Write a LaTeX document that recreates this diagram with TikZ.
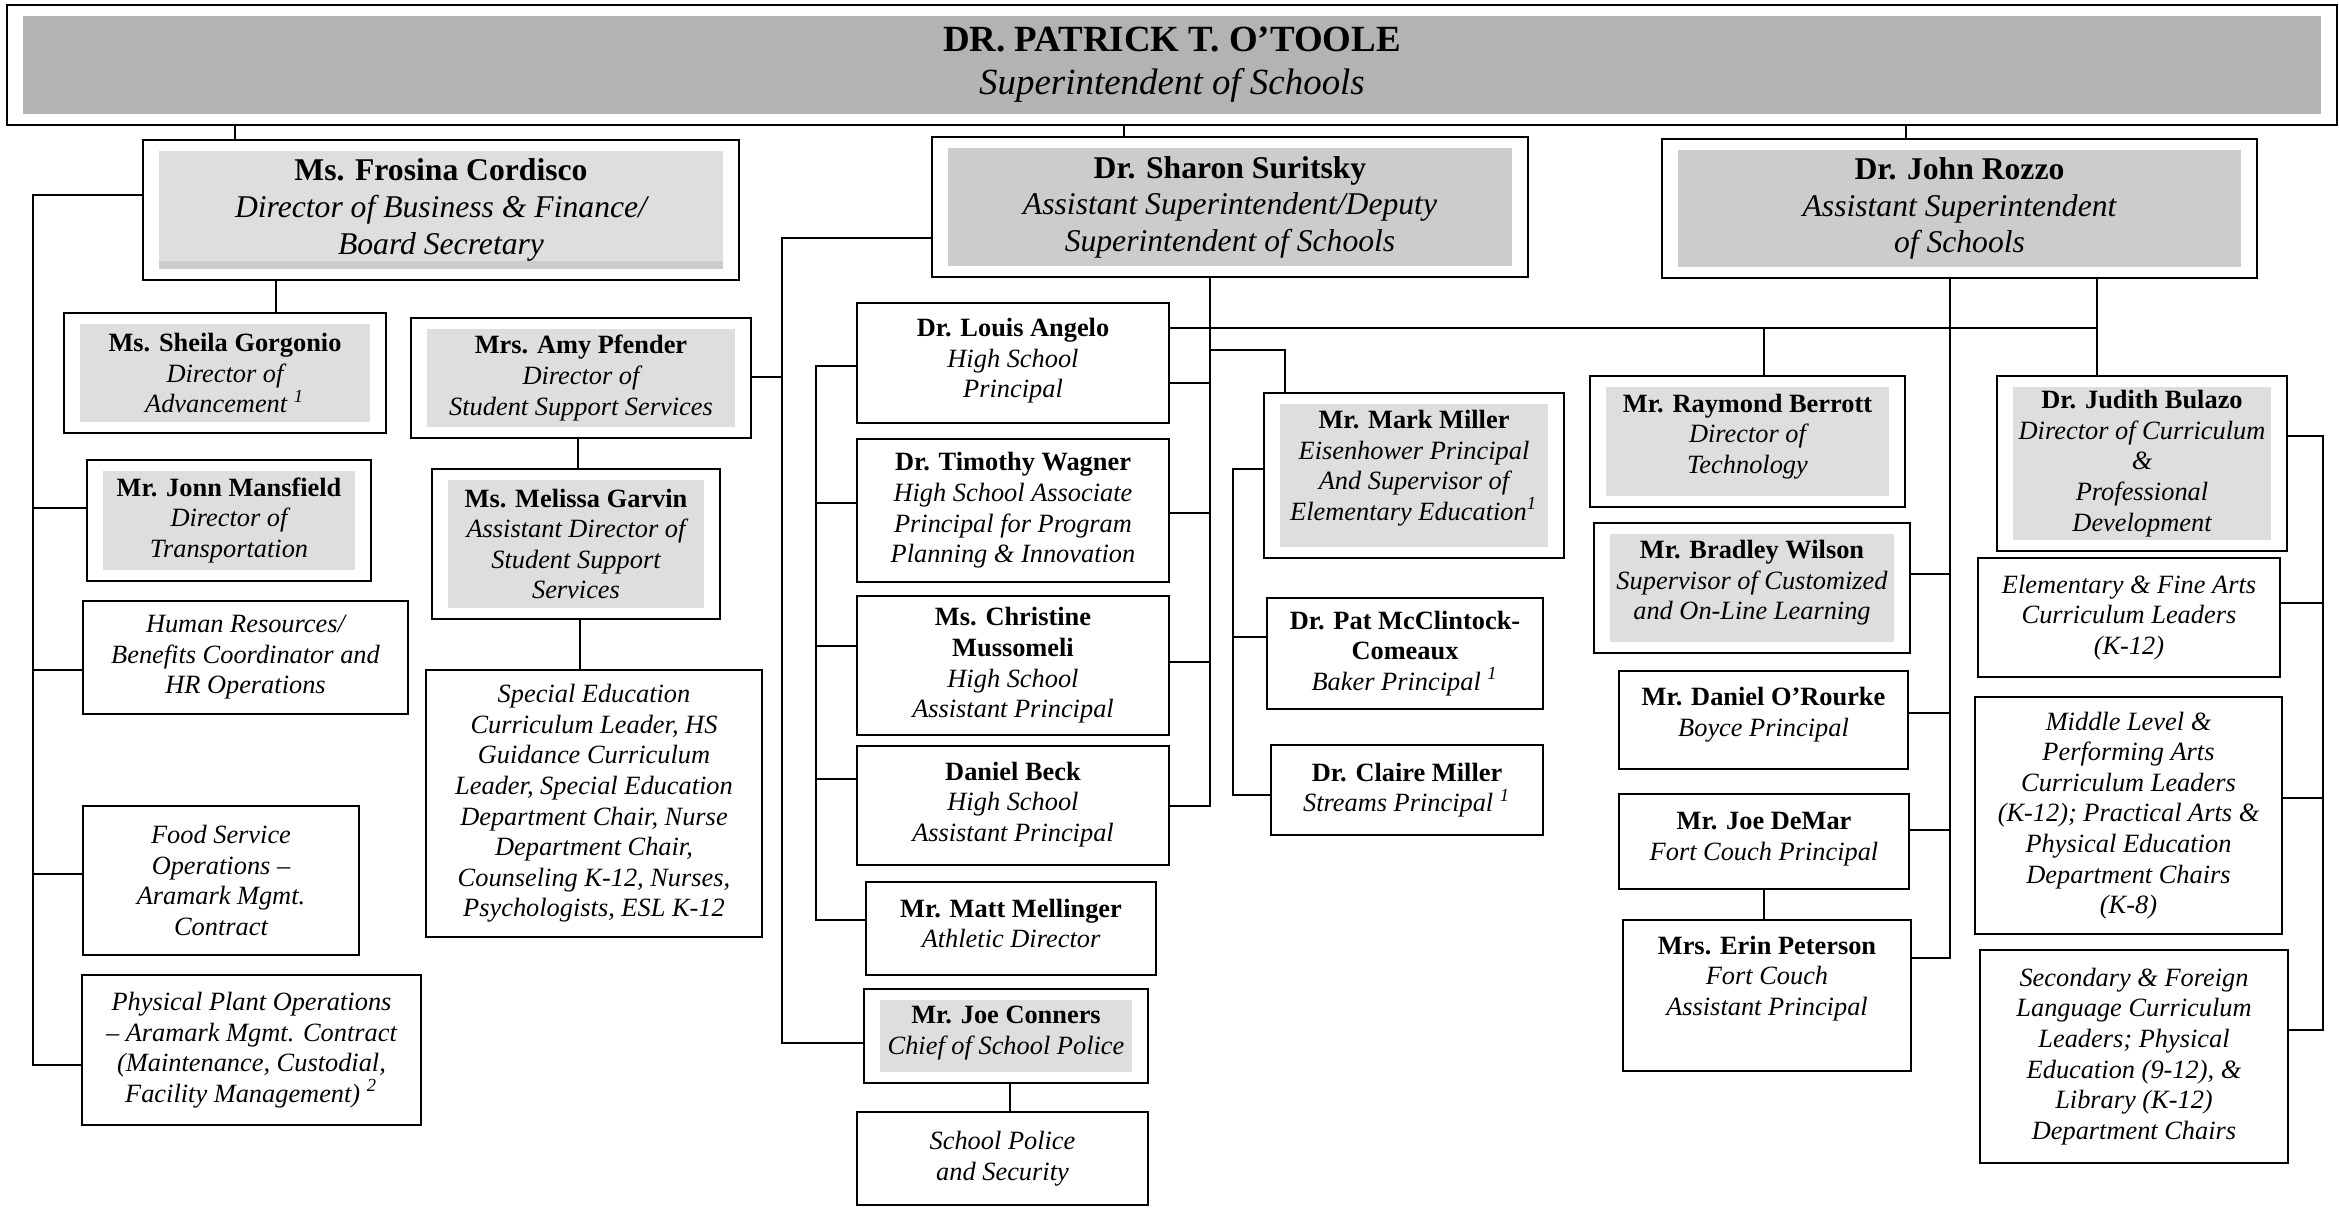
\documentclass[tikz,border=0pt]{standalone}
\usepackage{fontspec}
\setmainfont{Liberation Serif}
\usetikzlibrary{positioning}

\definecolor{fillA}{HTML}{B3B3B3}
\definecolor{fillB}{HTML}{CCCCCC}
\definecolor{fillC}{HTML}{DEDEDE}

\newcommand{\who}[1]{{\bfseries\upshape #1}}
\newcommand{\fn}[1]{\textsuperscript{#1}}
\newcommand{\txtup}[1]{\rule[-#1]{0pt}{#1}}

\begin{document}
\begin{tikzpicture}[
  x=0.01cm, y=-0.01cm,
  person/.style={draw, line width=0.6pt, inner sep=0pt, outer sep=0pt, align=center,
    font=\fontsize{7.5}{8.7}\selectfont\itshape},
  deputy/.style={person, font=\fontsize{9}{10.4}\selectfont\itshape},
  chief/.style={person, font=\fontsize{10.5}{12.2}\selectfont\itshape},
  shaded/.style={path picture={\fill[#1] ([xshift=0.16cm,yshift=-0.11cm]path picture bounding box.north west)
    rectangle ([xshift=-0.16cm,yshift=0.11cm]path picture bounding box.south east);}},
  shaded/.default=fillC,
  banded/.style={path picture={\fill[fillC] ([xshift=0.16cm,yshift=-0.11cm]path picture bounding box.north west)
    rectangle ([xshift=-0.16cm,yshift=0.11cm]path picture bounding box.south east);
    \fill[fillB] ([xshift=0.16cm,yshift=0.19cm]path picture bounding box.south west)
    rectangle ([xshift=-0.16cm,yshift=0.11cm]path picture bounding box.south east);}},
  link/.style={line width=0.45pt}
]
\useasboundingbox (0,0) rectangle (2339,1209);

% superintendent and the three under him
\node[chief, shaded=fillA, minimum width=23.28cm, minimum height=1.2cm] (sup) at (1172,65)
  {\who{DR. PATRICK T. O’TOOLE}\\ Superintendent of Schools};
\node[deputy, banded, minimum width=5.96cm, minimum height=1.4cm] (cord) at (441,210)
  {\who{Ms. Frosina Cordisco}\\ Director of Business \& Finance/\\ Board Secretary};
\node[deputy, shaded=fillB, minimum width=5.96cm, minimum height=1.4cm] (sur) at (1230,207)
  {\who{Dr. Sharon Suritsky}\\ Assistant Superintendent/Deputy\\ Superintendent of Schools};
\node[deputy, shaded=fillB, minimum width=5.95cm, minimum height=1.39cm] (roz) at (1959.5,208.5)
  {\who{Dr. John Rozzo}\\ Assistant Superintendent\\ of Schools};

% business and finance
\node[person, shaded, minimum width=3.22cm, minimum height=1.2cm] (gorg) at (225,373)
  {\who{Ms. Sheila Gorgonio}\\ Director of\\ Advancement \fn{1}};
\node[person, shaded, minimum width=2.84cm, minimum height=1.21cm] (mans) at (229,520.5)
  {\who{Mr. Jonn Mansfield}\\ Director of\\ Transportation};
\node[person, minimum width=3.25cm, minimum height=1.13cm] (hr) at (245.5,657.5)
  {Human Resources/\\ Benefits Coordinator and\\ HR Operations};
\node[person, minimum width=2.76cm, minimum height=1.49cm] (food) at (221,880.5)
  {Food Service\\ Operations –\\ Aramark Mgmt.\\ Contract};
\node[person, minimum width=3.39cm, minimum height=1.5cm] (plant) at (251.5,1050)
  {Physical Plant Operations\\ – Aramark Mgmt. Contract\\ (Maintenance, Custodial,\\ Facility Management) \fn{2}};

% student support
\node[person, shaded, minimum width=3.4cm, minimum height=1.2cm] (pfen) at (581,378)
  {\who{Mrs. Amy Pfender}\\ Director of\\ Student Support Services};
\node[person, shaded, minimum width=2.88cm, minimum height=1.5cm] (garv) at (576,544)
  {\who{Ms. Melissa Garvin}\\ Assistant Director of\\ Student Support\\ Services};
\node[person, minimum width=3.36cm, minimum height=2.67cm] (sped) at (594,803.5)
  {Special Education\\ Curriculum Leader, HS\\ Guidance Curriculum\\ Leader, Special Education\\
   Department Chair, Nurse\\ Department Chair,\\ Counseling K-12, Nurses,\\ Psychologists, ESL K-12};

% high school
\node[person, minimum width=3.12cm, minimum height=1.2cm] (ang) at (1013,363)
  {\who{Dr. Louis Angelo}\\ High School\\ Principal\txtup{0.1cm}};
\node[person, minimum width=3.12cm, minimum height=1.43cm] (wag) at (1013,510.5)
  {\who{Dr. Timothy Wagner}\\ High School Associate\\ Principal for Program\\ Planning \& Innovation};
\node[person, minimum width=3.12cm, minimum height=1.39cm] (muss) at (1013,665.5)
  {\who{Ms. Christine}\\ \who{Mussomeli}\\ High School\\ Assistant Principal};
\node[person, minimum width=3.12cm, minimum height=1.19cm] (beck) at (1013,805.5)
  {\who{Daniel Beck}\\ High School\\ Assistant Principal\txtup{0.08cm}};
\node[person, minimum width=2.9cm, minimum height=0.93cm] (mell) at (1011,928.5)
  {\who{Mr. Matt Mellinger}\\ Athletic Director\txtup{0.1cm}};
\node[person, shaded, minimum width=2.84cm, minimum height=0.94cm] (conn) at (1006,1036)
  {\who{Mr. Joe Conners}\\ Chief of School Police\txtup{0.12cm}};
\node[person, minimum width=2.91cm, minimum height=0.93cm] (pol) at (1002.5,1158.5)
  {School Police\\ and Security};

% elementary
\node[person, shaded, minimum width=3cm, minimum height=1.65cm] (mmil) at (1414,475.5)
  {\who{Mr. Mark Miller}\\ Eisenhower Principal\\ And Supervisor of\\ Elementary Education\fn{1}\txtup{0.2cm}};
\node[person, minimum width=2.76cm, minimum height=1.11cm] (mccl) at (1405,653.5)
  {\who{Dr. Pat McClintock-}\\ \who{Comeaux}\\ Baker Principal \fn{1}};
\node[person, minimum width=2.72cm, minimum height=0.9cm] (cmil) at (1407,790)
  {\who{Dr. Claire Miller}\\ Streams Principal \fn{1}};

% technology and middle school
\node[person, shaded, minimum width=3.15cm, minimum height=1.31cm] (berr) at (1747.5,441.5)
  {\who{Mr. Raymond Berrott}\\ Director of\\ Technology\txtup{0.16cm}};
\node[person, shaded, minimum width=3.16cm, minimum height=1.3cm] (wils) at (1752,588)
  {\who{Mr. Bradley Wilson}\\ Supervisor of Customized\\ and On-Line Learning\txtup{0.16cm}};
\node[person, minimum width=2.89cm, minimum height=0.98cm] (orou) at (1763.5,720)
  {\who{Mr. Daniel O’Rourke}\\ Boyce Principal\txtup{0.16cm}};
\node[person, minimum width=2.9cm, minimum height=0.95cm] (dema) at (1764,841.5)
  {\who{Mr. Joe DeMar}\\ Fort Couch Principal\txtup{0.1cm}};
\node[person, minimum width=2.88cm, minimum height=1.51cm] (pete) at (1767,995.5)
  {\who{Mrs. Erin Peterson}\\ Fort Couch\\ Assistant Principal\txtup{0.4cm}};

% curriculum
\node[person, shaded, minimum width=2.9cm, minimum height=1.75cm] (bula) at (2142,463.5)
  {\who{Dr. Judith Bulazo}\\ Director of Curriculum\\ \&\\ Professional\\ Development};
\node[person, minimum width=3.02cm, minimum height=1.19cm] (elem) at (2129,617.5)
  {Elementary \& Fine Arts\\ Curriculum Leaders\\ (K-12)};
\node[person, minimum width=3.07cm, minimum height=2.37cm] (midl) at (2128.5,815.5)
  {Middle Level \&\\ Performing Arts\\ Curriculum Leaders\\ (K-12); Practical Arts \&\\
   Physical Education\\ Department Chairs\\ (K-8)};
\node[person, minimum width=3.08cm, minimum height=2.13cm] (seco) at (2134,1056.5)
  {Secondary \& Foreign\\ Language Curriculum\\ Leaders; Physical\\ Education (9-12), \&\\
   Library (K-12)\\ Department Chairs};

% lines from the top
\coordinate (kc) at (235,0);
\coordinate (ks) at (1124,0);
\coordinate (kr) at (1906,0);
\draw[link] (sup.south -| kc) -- (cord.north -| kc);
\draw[link] (sup.south -| ks) -- (sur.north -| ks);
\draw[link] (sup.south -| kr) -- (roz.north -| kr);

% business and finance bus
\coordinate (cb) at (33,195);
\coordinate (cbe) at (33,1065);
\coordinate (c2) at (33,508);
\coordinate (c3) at (33,670);
\coordinate (c4) at (33,874);
\coordinate (kg) at (276,0);
\draw[link] (cord.west |- cb) -- (cb) -- (cbe) -- (plant.west |- cbe);
\draw[link] (c2) -- (c2 -| mans.west);
\draw[link] (c3) -- (c3 -| hr.west);
\draw[link] (c4) -- (c4 -| food.west);
\draw[link] (cord.south -| kg) -- (gorg.north -| kg);

% deputy bus
\coordinate (sb) at (782,238);
\coordinate (sbe) at (782,1043);
\coordinate (pf) at (782,377);
\coordinate (kp) at (578,0);
\coordinate (ke) at (580,0);
\coordinate (kn) at (1010,0);
\draw[link] (sur.west |- sb) -- (sb) -- (sbe) -- (sbe -| conn.west);
\draw[link] (pf) -- (pf -| pfen.east);
\draw[link] (pfen.south -| kp) -- (garv.north -| kp);
\draw[link] (garv.south -| ke) -- (sped.north -| ke);
\draw[link] (conn.south -| kn) -- (pol.north -| kn);

% schools under the deputy
\coordinate (se) at (1210,806);
\coordinate (s1) at (1210,383);
\coordinate (s2) at (1210,513);
\coordinate (s3) at (1210,662);
\coordinate (sm) at (1210,350);
\coordinate (sm2) at (1285,350);
\draw[link] (sur.south -| se) -- (se) -- (se -| beck.east);
\draw[link] (s1) -- (s1 -| ang.east);
\draw[link] (s2) -- (s2 -| wag.east);
\draw[link] (s3) -- (s3 -| muss.east);
\draw[link] (sm) -- (sm2) -- (sm2 |- mmil.north);

% high school bus
\coordinate (hb) at (816,366);
\coordinate (hbe) at (816,920);
\coordinate (h2) at (816,503);
\coordinate (h3) at (816,646);
\coordinate (h4) at (816,779);
\draw[link] (hb -| ang.west) -- (hb) -- (hbe) -- (hbe -| mell.west);
\draw[link] (h2) -- (h2 -| wag.west);
\draw[link] (h3) -- (h3 -| muss.west);
\draw[link] (h4) -- (h4 -| beck.west);

% elementary bus
\coordinate (mb) at (1233,469);
\coordinate (mbe) at (1233,795);
\coordinate (m2) at (1233,637);
\draw[link] (mmil.west |- mb) -- (mb) -- (mbe) -- (mbe -| cmil.west);
\draw[link] (m2) -- (m2 -| mccl.west);

% rozzo side
\coordinate (rl) at (2097,328);
\coordinate (rb) at (1764,328);
\draw[link] (ang.east |- rl) -- (rl);
\draw[link] (roz.south -| rl) -- (bula.north -| rl);
\draw[link] (rb) -- (rb |- berr.north);
\coordinate (rv) at (1950,958);
\coordinate (r1) at (1950,574);
\coordinate (r2) at (1950,713);
\coordinate (r3) at (1950,830);
\coordinate (kd) at (1764,0);
\draw[link] (roz.south -| rv) -- (rv) -- (rv -| pete.east);
\draw[link] (r1) -- (r1 -| wils.east);
\draw[link] (r2) -- (r2 -| orou.east);
\draw[link] (r3) -- (r3 -| dema.east);
\draw[link] (dema.south -| kd) -- (pete.north -| kd);

% curriculum bus
\coordinate (bb) at (2323,436);
\coordinate (bbe) at (2323,1030);
\coordinate (b2) at (2323,603);
\coordinate (b3) at (2323,798);
\draw[link] (bula.east |- bb) -- (bb) -- (bbe) -- (bbe -| seco.east);
\draw[link] (b2) -- (b2 -| elem.east);
\draw[link] (b3) -- (b3 -| midl.east);

\end{tikzpicture}
\end{document}
